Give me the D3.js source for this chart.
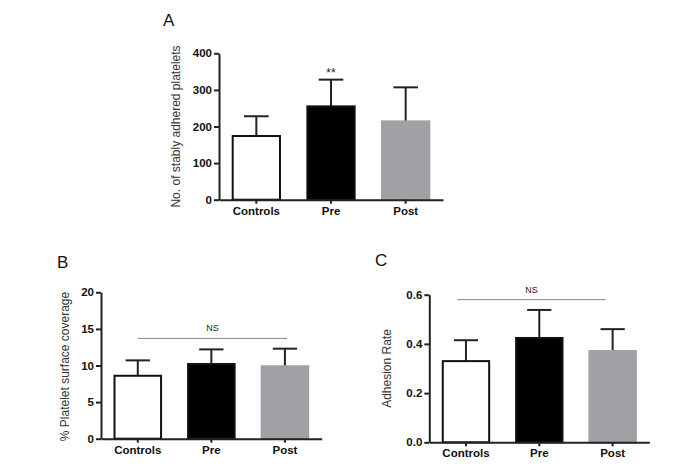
<!DOCTYPE html>
<html>
<head>
<meta charset="utf-8">
<script src="https://cdn.jsdelivr.net/npm/d3@7"></script>
<style>
  body { margin: 0; background: #fff; }
  svg text { font-family: "Liberation Sans", Arial, sans-serif; }
</style>
</head>
<body>
<svg id="chart" width="685" height="470"></svg>
<script>
// data
const categories = ["Controls", "Pre", "Post"];
const fills = ["#ffffff", "#000000", "#a1a1a5"];

const adheredMean = [174, 255, 214];
const adheredErr = [228, 328, 307];   // top of error bar
const adheredTicks = [0, 100, 200, 300, 400];

const coverageMean = [8.6, 10.2, 9.9];
const coverageErr = [10.7, 12.2, 12.3];
const coverageTicks = [0, 5, 10, 15, 20];

const rateMean = [0.33, 0.424, 0.371];
const rateErr = [0.415, 0.538, 0.46];
const rateTicks = [0, 0.2, 0.4, 0.6];

const svg = d3.select("#chart");

function panel(opt) {
  let g = svg.append("g");

  let x = d3.scaleBand()
    .domain(categories)
    .range([opt.x0, opt.x1])
    .paddingInner(0.34)
    .paddingOuter(0.17);

  let y = d3.scaleLinear()
    .domain([0, opt.ticks[opt.ticks.length - 1]])
    .range([opt.y0, opt.y1]);

  // error bars (upper only)
  categories.forEach(function (c, i) {
    let cx = x(c) + x.bandwidth() / 2;
    let cap = x.bandwidth() / 4;
    g.append("line")
      .attr("x1", cx).attr("x2", cx)
      .attr("y1", y(opt.mean[i])).attr("y2", y(opt.err[i]))
      .attr("stroke", "#222").attr("stroke-width", 2);
    g.append("line")
      .attr("x1", cx - cap).attr("x2", cx + cap)
      .attr("y1", y(opt.err[i])).attr("y2", y(opt.err[i]))
      .attr("stroke", "#222").attr("stroke-width", 2);
  });

  // bars
  g.selectAll("rect.bar")
    .data(categories)
    .join("rect")
    .attr("class", "bar")
    .attr("x", d => x(d) + 1)
    .attr("width", x.bandwidth() - 2)
    .attr("y", (d, i) => y(opt.mean[i]))
    .attr("height", (d, i) => y(0) - y(opt.mean[i]))
    .attr("fill", (d, i) => fills[i])
    .attr("stroke", (d, i) => i == 2 ? "#a1a1a5" : "#111")
    .attr("stroke-width", 2);

  // axes
  let yAxis = g.append("g")
    .attr("transform", "translate(" + opt.x0 + ",0)")
    .call(d3.axisLeft(y).tickValues(opt.ticks).tickFormat(opt.fmt).tickSize(5).tickSizeOuter(0).tickPadding(2));

  let xAxis = g.append("g")
    .attr("transform", "translate(0," + opt.y0 + ")")
    .call(d3.axisBottom(x).tickSize(4).tickSizeOuter(0).tickPadding(3));

  [yAxis, xAxis].forEach(function (a) {
    a.select(".domain").attr("stroke", "#222").attr("stroke-width", 2);
    a.selectAll(".tick line").attr("stroke", "#222").attr("stroke-width", 2);
    a.selectAll(".tick text")
      .attr("fill", "#111")
      .attr("font-size", 11.5)
      .attr("font-weight", "bold")
      .attr("font-family", "Liberation Sans, Arial, sans-serif");
  });

  // y label
  g.append("text")
    .attr("transform", "translate(" + opt.labelX + "," + ((opt.y0 + opt.y1) / 2 + opt.labelDy) + ") rotate(-90)")
    .attr("text-anchor", "middle")
    .attr("font-size", 12)
    .attr("fill", "#333")
    .text(opt.label);

  // panel letter
  g.append("text")
    .attr("x", opt.letterX).attr("y", opt.letterY)
    .attr("font-size", 17)
    .attr("font-family", "Open Sans, sans-serif")
    .attr("fill", "#111")
    .text(opt.letter);

  // significance
  if (opt.ns) {
    let yl = y(opt.ns.value);
    g.append("line")
      .attr("x1", opt.ns.from).attr("x2", opt.ns.to)
      .attr("y1", yl).attr("y2", yl)
      .attr("stroke", "#888").attr("stroke-width", 1);
    g.append("text")
      .attr("x", (opt.ns.from + opt.ns.to) / 2).attr("y", yl - 7)
      .attr("text-anchor", "middle")
      .attr("font-size", 9)
      .attr("fill", "#222")
      .text("NS");
  }
  if (opt.star) {
    g.append("text")
      .attr("x", x(opt.star) + x.bandwidth() / 2)
      .attr("y", y(opt.starValue))
      .attr("text-anchor", "middle")
      .attr("font-size", 12)
      .attr("fill", "#222")
      .text("**");
  }
}

panel({
  x0: 219, x1: 443, y0: 199.7, y1: 53.3,
  ticks: adheredTicks, fmt: d3.format("d"),
  mean: adheredMean, err: adheredErr,
  label: "No. of stably adhered platelets", labelX: 180, labelDy: 0,
  letter: "A", letterX: 163, letterY: 26,
  star: "Pre", starValue: 335
});

panel({
  x0: 101, x1: 321.7, y0: 438.7, y1: 292.3,
  ticks: coverageTicks, fmt: d3.format("d"),
  mean: coverageMean, err: coverageErr,
  label: "% Platelet surface coverage", labelX: 69, labelDy: 1,
  letter: "B", letterX: 57, letterY: 268,
  ns: { value: 13.7, from: 138, to: 287 }
});

panel({
  x0: 429.3, x1: 649.3, y0: 442.3, y1: 294.7,
  ticks: rateTicks, fmt: d3.format(".1f"),
  mean: rateMean, err: rateErr,
  label: "Adhesion Rate", labelX: 391, labelDy: 0,
  letter: "C", letterX: 375, letterY: 266,
  ns: { value: 0.58, from: 457.3, to: 605.7 }
});
</script>
</body>
</html>
